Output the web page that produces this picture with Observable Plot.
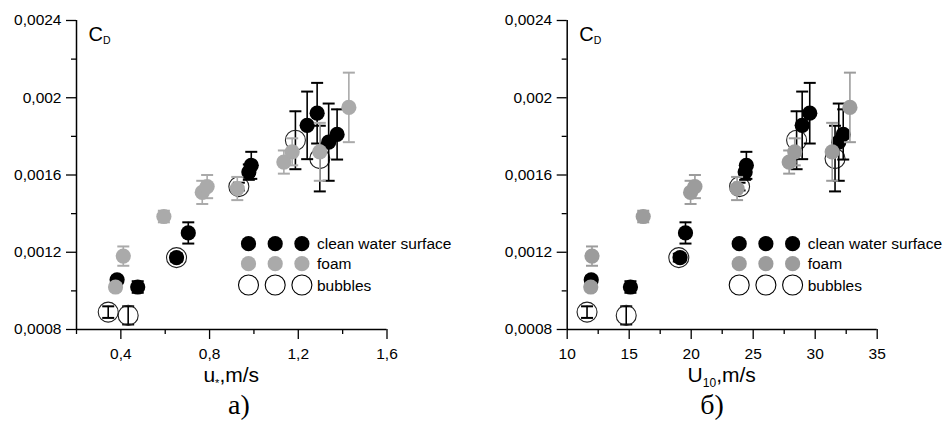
<!DOCTYPE html>
<html>
<head>
<meta charset="utf-8">
<script src="https://cdn.jsdelivr.net/npm/d3@7"></script>
<script src="https://cdn.jsdelivr.net/npm/@observablehq/plot@0.6"></script>
<style>
  html, body { margin: 0; padding: 0; background: #fff; }
  #wrap { display: flex; width: 944px; height: 421px; overflow: hidden; }
  #wrap svg { display: block; flex: none; overflow: visible; }
</style>
</head>
<body>
<div id="wrap"></div>
<script>
// ---- Axis ticks ----
const yMajor = [0.0008, 0.0012, 0.0016, 0.002, 0.0024];
const yMinor = [0.001, 0.0014, 0.0018, 0.0022];
const uMajor = [0.4, 0.8, 1.2, 1.6];
const uMinor = [0.2, 0.6, 1.0, 1.4];
const u10Major = [10, 15, 20, 25, 30, 35];
const u10Minor = [12.5, 17.5, 22.5, 27.5, 32.5];

// ---- Series: clean water surface ----
const cleanU   = [0.383, 0.476, 0.651, 0.704, 0.977, 0.988, 1.240, 1.285, 1.337, 1.375];
const cleanU10 = [11.94, 15.1, 19.1, 19.54, 24.35, 24.45, 28.95, 29.56, 31.9, 32.26];
const cleanCD  = [0.001057, 0.00102, 0.001172, 0.0013, 0.001615, 0.00165, 0.001857, 0.00192, 0.00177, 0.00181];
const cleanErr = [0.00002, 0.00003, 0.00002, 0.000055, 0.00004, 0.00007, 0.000175, 0.000157, 0.0002, 0.00013];

// ---- Series: foam ----
const foamU   = [0.376, 0.411, 0.594, 0.767, 0.789, 0.925, 1.135, 1.1725, 1.297, 1.428];
const foamU10 = [11.9, 12.0, 16.13, 19.95, 20.3, 23.7, 27.9, 28.35, 31.37, 32.8];
const foamCD  = [0.00102, 0.00118, 0.001385, 0.00151, 0.00154, 0.00153, 0.001667, 0.00172, 0.00172, 0.00195];
const foamErr = [0.00002, 0.00005, 0.00003, 0.00006, 0.00006, 0.00006, 0.00006, 0.00007, 0.00015, 0.00018];

// ---- Series: bubbles ----
const bubU   = [0.343, 0.433, 0.651, 0.932, 1.187, 1.297];
const bubU10 = [11.6, 14.76, 19.0, 23.9, 28.5, 31.6];
const bubCD  = [0.00089, 0.000873, 0.001172, 0.00154, 0.00178, 0.001685];
const bubErr = [0.00003, 0.000047, 0.00002, 0.00002, 0.00015, 0.00017];

const legendLabels = ["clean water surface", "foam", "bubbles"];

const rows = (u, u10, cd, err) => u.map((_, i) => ({u: u[i], u10: u10[i], cd: cd[i], err: err[i]}));
const clean = rows(cleanU, cleanU10, cleanCD, cleanErr);
const foam = rows(foamU, foamU10, foamCD, foamErr);
const bubbles = rows(bubU, bubU10, bubCD, bubErr);

const SANS = "'Liberation Sans', Arial, sans-serif";
const cap = { draw(ctx, size) { const w = Math.sqrt(size / Math.PI); ctx.moveTo(-w, 0); ctx.lineTo(w, 0); } };
const fmtY = d => String(+d.toFixed(4)).replace(".", ",");
const fmtU = d => d.toFixed(1).replace(".", ",");
const fmtU10 = d => String(d);

function errMarks(data, xKey, color) {
  return [
    Plot.ruleX(data, {x: xKey, y1: d => d.cd - d.err, y2: d => d.cd + d.err, stroke: color, strokeWidth: 1.6}),
    Plot.dot(data, {x: xKey, y: d => d.cd + d.err, symbol: cap, r: 6, stroke: color, fill: "none", strokeWidth: 2}),
    Plot.dot(data, {x: xKey, y: d => d.cd - d.err, symbol: cap, r: 6, stroke: color, fill: "none", strokeWidth: 2})
  ];
}

function panel(opt) {
  const W = 472, H = 421;
  const svg = Plot.plot({
    width: W, height: H,
    marginLeft: opt.ml, marginRight: opt.mr, marginTop: 20, marginBottom: 92,
    style: {fontFamily: SANS, fontSize: "15px", color: "#000", background: "#fff", overflow: "visible"},
    x: {domain: opt.xDomain},
    y: {domain: [0.0008, 0.0024]},
    marks: [
      Plot.axisY({ticks: yMajor, tickSize: 10, tickPadding: 5, tickFormat: fmtY, label: null, fontSize: 15.5, strokeWidth: 1.3}),
      Plot.axisY({ticks: yMinor, tickSize: 5, tickFormat: () => "", label: null, strokeWidth: 1.3}),
      Plot.axisX({ticks: opt.major, tickSize: 10, tickPadding: 8, tickFormat: opt.fmt, label: null, fontSize: 15.5, strokeWidth: 1.3}),
      Plot.axisX({ticks: opt.minor, tickSize: 5, tickFormat: () => "", label: null, strokeWidth: 1.3}),
      Plot.ruleX([opt.xDomain[0]], {stroke: "#000", strokeWidth: 1.5}),
      Plot.ruleY([0.0008], {stroke: "#000", strokeWidth: 1.5}),
      ...errMarks(bubbles, opt.key, "#000"),
      Plot.dot(bubbles, {x: opt.key, y: "cd", r: 10, stroke: "#222", fill: "none", strokeWidth: 1.1}),
      ...errMarks(clean, opt.key, "#000"),
      Plot.dot(clean, {x: opt.key, y: "cd", r: 7.6, fill: "#000", stroke: "none"}),
      ...errMarks(foam, opt.key, opt.gray),
      Plot.dot(foam, {x: opt.key, y: "cd", r: 7.6, fill: opt.gray, stroke: "none"})
    ]
  });
  const s = d3.select(svg);
  // enforce tick label font
  s.selectAll("g[aria-label$='tick label'] text")
    .style("font-size", "15.5px").style("font-family", SANS);
  const x0 = opt.ml, x1 = W - opt.mr;
  // C_D label
  const cd = s.append("text").attr("x", x0 + 12.5).attr("y", 40.5).attr("text-anchor", "start")
    .attr("font-family", SANS).attr("font-size", 20).attr("fill", "#000");
  cd.append("tspan").text("C");
  cd.append("tspan").attr("font-size", 10.5).attr("dy", 3.5).text("D");
  // Axis label
  const xl = s.append("text").attr("x", (x0 + x1) / 2).attr("y", 381.5).attr("text-anchor", "middle")
    .attr("font-family", SANS).attr("font-size", 21).attr("fill", "#000");
  xl.append("tspan").text(opt.labelMain);
  xl.append("tspan").attr("font-size", opt.subSize).attr("dy", 5).text(opt.labelSub);
  xl.append("tspan").attr("dy", -5).text(",m/s");
  // Caption
  s.append("text").attr("x", opt.capX).attr("y", 414).attr("text-anchor", "middle")
    .attr("font-family", "'Liberation Serif', 'Times New Roman', serif").attr("font-size", 28).attr("fill", "#000")
    .text(opt.caption);
  // Legend
  const lg = s.append("g").attr("font-family", SANS).attr("font-size", 15.5).attr("text-anchor", "start");
  const rowsY = [243.7, 263.7, 285];
  const colsX = [172.5, 199.2, 225.9].map(d => x0 + d);
  colsX.forEach(cx => {
    lg.append("circle").attr("cx", cx).attr("cy", rowsY[0]).attr("r", 7.6).attr("fill", "#000");
    lg.append("circle").attr("cx", cx).attr("cy", rowsY[1]).attr("r", 7.6).attr("fill", opt.gray);
    lg.append("circle").attr("cx", cx).attr("cy", rowsY[2]).attr("r", 10).attr("fill", "none").attr("stroke", "#000").attr("stroke-width", 1.1);
  });
  legendLabels.forEach((t, i) => {
    lg.append("text").attr("x", x0 + 241).attr("y", rowsY[i] + 5.5).attr("text-anchor", "start").attr("fill", "#000").text(t);
  });
  return svg;
}

const wrap = document.getElementById("wrap");
wrap.appendChild(panel({
  key: "u", xDomain: [0.2, 1.6], major: uMajor, minor: uMinor, fmt: fmtU,
  ml: 76, mr: 85.5, gray: "#aaaaaa", labelMain: "u", labelSub: "*", subSize: 11,
  caption: "а)", capX: 239
}));
wrap.appendChild(panel({
  key: "u10", xDomain: [10, 35], major: u10Major, minor: u10Minor, fmt: fmtU10,
  ml: 94.7, mr: 67.3, gray: "#9c9c9c", labelMain: "U", labelSub: "10", subSize: 12,
  caption: "б)", capX: 240
}));
</script>
</body>
</html>
